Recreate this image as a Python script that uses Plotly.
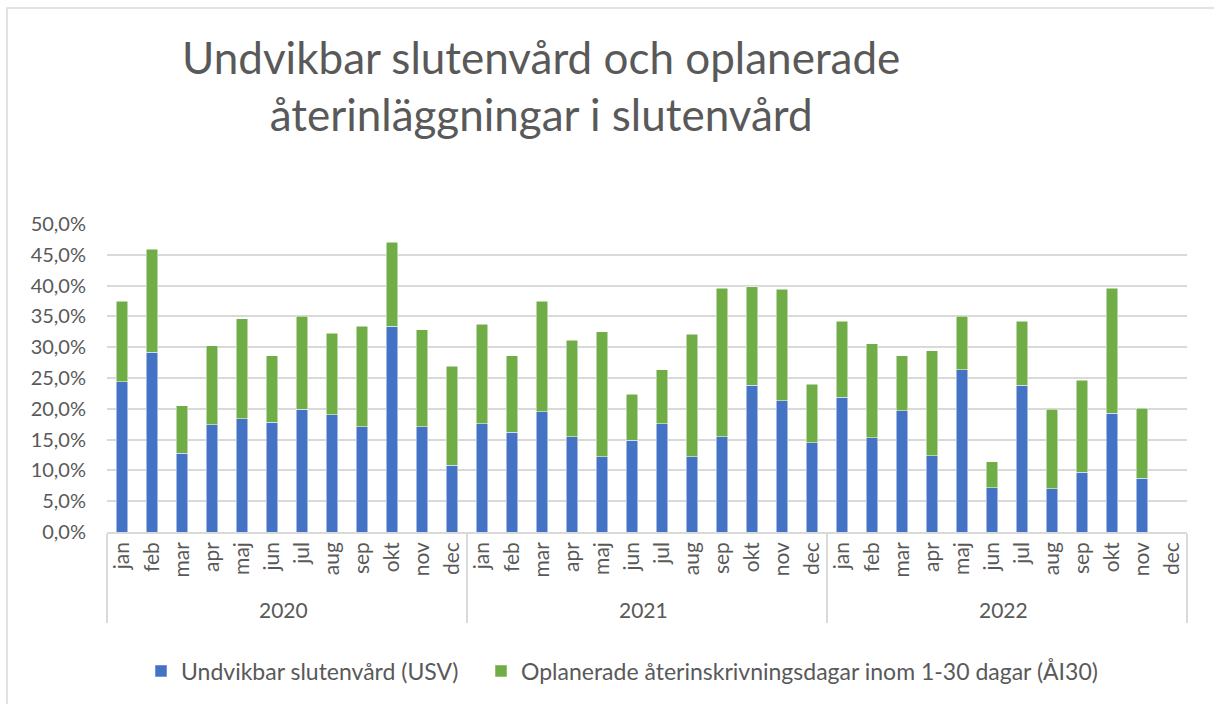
import plotly.graph_objects as go

years = ["2020", "2021", "2022"]
months = ["jan", "feb", "mar", "apr", "maj", "jun", "jul", "aug", "sep", "okt", "nov", "dec"]

usv = [24.4, 29.2, 12.8, 17.4, 18.4, 17.8, 19.9, 19.0, 17.1, 33.4, 17.1, 10.8,
       17.6, 16.2, 19.5, 15.5, 12.2, 14.9, 17.6, 12.2, 15.5, 23.8, 21.3, 14.5,
       21.9, 15.3, 19.7, 12.4, 26.3, 7.2, 23.8, 7.0, 9.7, 19.3, 8.7, None]
ai30 = [13.1, 16.7, 7.7, 12.8, 16.2, 10.8, 15.1, 13.3, 16.3, 13.6, 15.7, 16.1,
        16.1, 12.4, 18.0, 15.6, 20.3, 7.5, 8.7, 19.9, 24.1, 16.0, 18.1, 9.5,
        12.3, 15.3, 8.9, 17.0, 8.7, 4.2, 10.4, 12.9, 14.9, 20.3, 11.4, None]

names = ["Undvikbar slutenvård (USV)",
         "Oplanerade återinskrivningsdagar inom 1-30 dagar (ÅI30)"]
title_text = "Undvikbar slutenvård och oplanerade<br>återinläggningar i slutenvård"

x_outer = [y for y in years for _ in months]
x_inner = [m for _ in years for m in months]

FONT = "Lato"
GREY = "#595959"

L, R, T, B = 107, 27, 224, 172
W, H = 1214, 704
pw, ph = W - L - R, H - T - B


def px_x(px):
    return (px - L) / pw


def px_y(py):
    return (H - B - py) / ph


fig = go.Figure()
fig.add_trace(go.Bar(x=[x_outer, x_inner], y=usv, name=names[0], legend="legend",
                     marker=dict(color="#4472C4", line=dict(color="#ffffff", width=0.5))))
fig.add_trace(go.Bar(x=[x_outer, x_inner], y=ai30, name=names[1], legend="legend2",
                     marker=dict(color="#70AD47", line=dict(color="#ffffff", width=0.5))))

leg_common = dict(orientation="h", yanchor="middle", xanchor="left",
                  font=dict(size=23, color=GREY, family=FONT),
                  bgcolor="rgba(0,0,0,0)", borderwidth=0)

fig.update_layout(
    width=W, height=H,
    barmode="stack", bargap=0.62,
    separators=", ",
    plot_bgcolor="white", paper_bgcolor="white",
    margin=dict(l=L, r=R, t=T, b=B, autoexpand=False),
    font=dict(family=FONT, color=GREY, size=20),
    legend=dict(x=px_x(141), y=px_y(671), **leg_common),
    legend2=dict(x=px_x(481), y=px_y(671), **leg_common),
    showlegend=True,
)

fig.add_annotation(text=title_text, xref="paper", yref="paper",
                   x=px_x(541), y=px_y(29), xanchor="center", yanchor="top",
                   showarrow=False, align="center",
                   font=dict(family=FONT, size=44, color=GREY))

fig.update_yaxes(range=[0, 50], dtick=5, tickformat=".1f", ticksuffix="%",
                 showgrid=True, gridcolor="#d9d9d9", gridwidth=1.5,
                 zeroline=False, showline=False, ticks="", ticklabelstandoff=20,
                 tickfont=dict(size=20, color=GREY), fixedrange=True)
fig.update_xaxes(type="multicategory", tickangle=-90, showline=True, linecolor="#d9d9d9",
                 linewidth=1.5, showdividers=True, dividercolor="#d9d9d9", dividerwidth=1.5,
                 ticks="", tickfont=dict(size=21, color=GREY), fixedrange=True)

# Chart-area border
fig.add_shape(type="rect", xref="paper", yref="paper",
              x0=px_x(7), x1=px_x(W + 20),
              y0=px_y(H + 20), y1=px_y(8),
              line=dict(color="#d9d9d9", width=1.5), fillcolor="rgba(0,0,0,0)", layer="below")

fig.write_html("out.html", config={"displayModeBar": False},
               post_script="document.body.style.margin='0';")
